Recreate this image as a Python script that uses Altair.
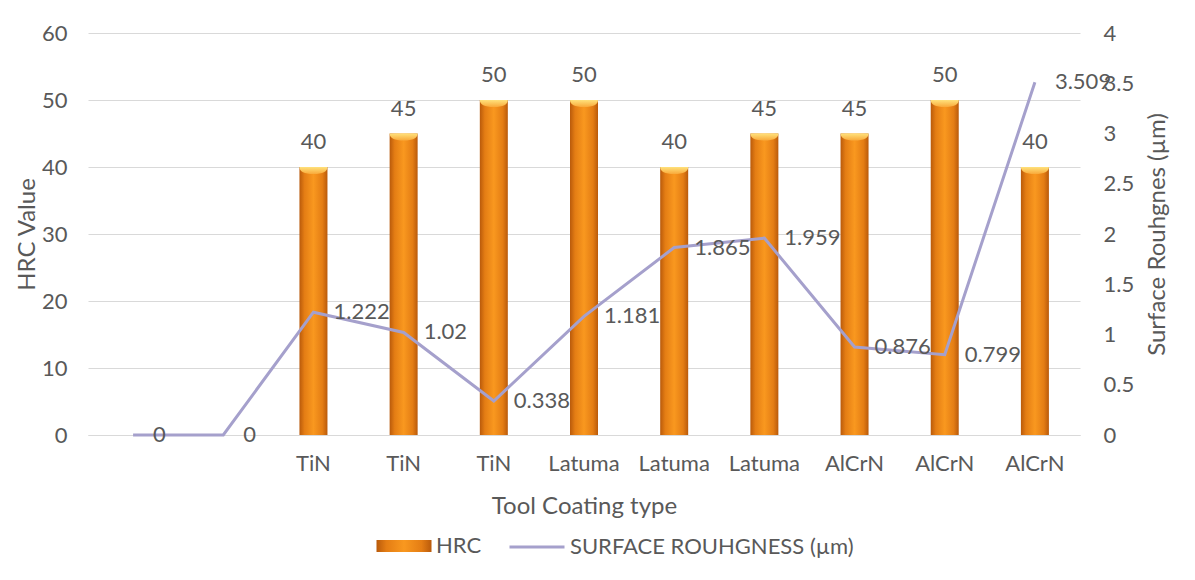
import json
import altair as alt
import pandas as pd

# Tool coating per sample (first two samples are uncoated)
coatings = ["", "", "TiN", "TiN", "TiN", "Latuma", "Latuma", "Latuma", "AlCrN", "AlCrN", "AlCrN"]
hrc_values = [0, 0, 40, 45, 50, 50, 40, 45, 45, 50, 40]
roughness_values = [0, 0, 1.222, 1.02, 0.338, 1.181, 1.865, 1.959, 0.876, 0.799, 3.509]

hrc_ticks = [0, 10, 20, 30, 40, 50, 60]
ra_ticks = [0, 0.5, 1, 1.5, 2, 2.5, 3, 3.5, 4]

SERIES_HRC = "HRC"
SERIES_RA = "SURFACE ROUHGNESS (µm)"

FONT = "Lato"
TEXT = "#595959"
GRID = "#D9D9D9"
LINE_COLOR = "#A5A0CC"

df = pd.DataFrame({
    "idx": list(range(len(coatings))),
    "coating": coatings,
    "hrc": hrc_values,
    "ra": roughness_values,
    "ra_label": [f"{v:g}" for v in roughness_values],
})

bar_fill = alt.Gradient(
    gradient="linear", x1=0, x2=1, y1=0, y2=0,
    stops=[
        alt.GradientStop(offset=0, color="#B95A0B"),
        alt.GradientStop(offset=0.18, color="#E47D14"),
        alt.GradientStop(offset=0.5, color="#F9981F"),
        alt.GradientStop(offset=0.82, color="#E47D14"),
        alt.GradientStop(offset=1, color="#B95A0B"),
    ],
)
cap_fill = alt.Gradient(
    gradient="linear", x1=0, x2=0, y1=0, y2=1,
    stops=[
        alt.GradientStop(offset=0, color="#FFE27C"),
        alt.GradientStop(offset=1, color="#F9A93A"),
    ],
)
# legend swatch for the bars: yellow top fading to dark orange
legend_bar_fill = (
    "{gradient: 'linear', x1: 0, y1: 0, x2: 0, y2: 1, stops: ["
    "{offset: 0, color: '#FFD65E'}, {offset: 0.45, color: '#F7A12E'}, {offset: 1, color: '#C8650C'}]}"
)

x_enc = alt.X(
    "idx:O",
    scale=alt.Scale(paddingInner=0, paddingOuter=0),
    axis=alt.Axis(
        title="Tool Coating type",
        labelExpr=json.dumps(coatings) + "[datum.value]",
        labelAngle=0,
        ticks=False,
        tickSize=0,
        domain=True,
        domainColor=GRID,
        labelPadding=18,
        titlePadding=20,
    ),
)

y_hrc = alt.Y(
    "hrc:Q",
    scale=alt.Scale(domain=[0, 60]),
    axis=alt.Axis(
        title="HRC Value",
        values=hrc_ticks,
        format="d",
        grid=True,
        domain=False,
        ticks=False,
        tickSize=0,
        labelPadding=21,
        titlePadding=2,
    ),
)

y_ra = alt.Y(
    "ra:Q",
    scale=alt.Scale(domain=[0, 4]),
    axis=alt.Axis(
        title="Surface Rouhgnes (µm)",
        orient="right",
        values=ra_ticks,
        format="~g",
        grid=False,
        domain=False,
        ticks=False,
        tickSize=0,
        labelPadding=23,
        titlePadding=36,
        titleAngle=270,
    ),
)

legend_common = dict(
    title=None,
    orient="none",
    direction="horizontal",
    symbolSize=3025,
    labelFont=FONT,
    labelFontSize=22,
    labelColor=TEXT,
    labelOffset=4,
    labelLimit=600,
)

base = alt.Chart(df)

bars = base.transform_calculate(series=f"'{SERIES_HRC}'").mark_bar(size=28, fill=bar_fill).encode(
    x=x_enc,
    y=y_hrc,
    opacity=alt.Opacity(
        "series:O",
        scale=alt.Scale(domain=[SERIES_HRC], range=[1]),
        legend=alt.Legend(
            legendX=288,
            legendY=485,
            symbolType="M-1,-0.22H1V0.22H-1Z",
            symbolFillColor={"expr": legend_bar_fill},
            symbolStrokeColor="#B85D0C",
            symbolStrokeWidth=1,
            symbolOpacity=1,
            **legend_common,
        ),
    ),
)

caps = base.transform_filter("datum.hrc > 0").mark_point(
    shape="M-1,0 L1,0 Q1,0.5 0,0.5 Q-1,0.5 -1,0 Z",
    size=784,
    filled=True,
    fill=cap_fill,
    strokeWidth=0,
    opacity=1,
).encode(x=x_enc, y=y_hrc)

bar_labels = base.transform_filter("datum.hrc > 0").mark_text(
    dy=-25, fontSize=22, font=FONT, color=TEXT
).encode(x=x_enc, y=y_hrc, text=alt.Text("hrc:Q", format="d"))

line = base.transform_calculate(series=f"'{SERIES_RA}'").mark_line(strokeWidth=3).encode(
    x=x_enc,
    y=y_ra,
    color=alt.Color(
        "series:N",
        scale=alt.Scale(domain=[SERIES_RA], range=[LINE_COLOR]),
        legend=alt.Legend(
            legendX=420,
            legendY=485,
            symbolType="stroke",
            symbolStrokeWidth=3,
            **legend_common,
        ),
    ),
)

line_labels = base.mark_text(
    align="left", baseline="middle", dx=20, fontSize=22, font=FONT, color=TEXT
).encode(x=x_enc, y=y_ra, text="ra_label:N")

chart = (
    alt.layer(
        alt.layer(bars, caps, bar_labels),
        alt.layer(line, line_labels),
    )
    .resolve_scale(y="independent")
    .properties(
        width=992,
        height=402,
        padding={"left": 88, "top": 33, "right": 115, "bottom": 145},
        autosize=alt.AutoSizeParams(type="none"),
        background="white",
    )
    .configure_view(stroke=None)
    .configure_axis(
        labelFont=FONT,
        labelFontSize=22,
        labelColor=TEXT,
        titleFont=FONT,
        titleFontSize=24,
        titleColor=TEXT,
        titleFontWeight="normal",
        gridColor=GRID,
        gridWidth=1,
    )
)

chart.save("out.html", embed_options={"renderer": "svg", "actions": False})
